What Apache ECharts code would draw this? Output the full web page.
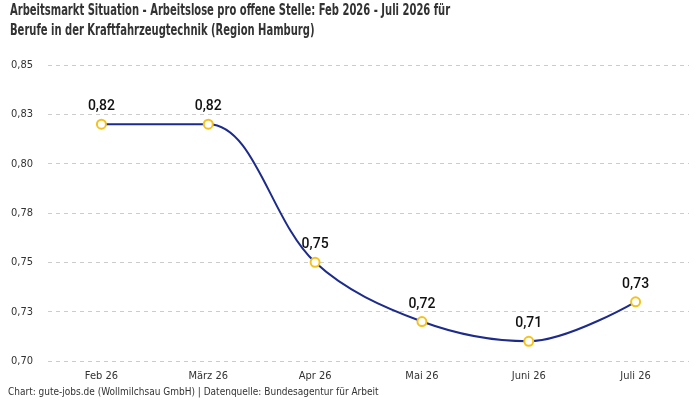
<!DOCTYPE html>
<html lang="de">
<head>
  <meta charset="UTF-8">
  <title>Arbeitsmarkt Situation</title>
  <style>
    html, body {
      margin: 0;
      padding: 0;
      background: #fff;
    }

    #chart {
      width: 700px;
      height: 400px;
    }
  </style>
</head>
<body>
  <div id="chart"></div>

  <script src="https://cdn.jsdelivr.net/npm/echarts@6/dist/echarts.min.js"></script>
  <script>
    // Monate (x-Achse)
    const months = ['Feb 26', 'März 26', 'Apr 26', 'Mai 26', 'Juni 26', 'Juli 26']
    // Arbeitslose pro offene Stelle
    const ratio = [0.82, 0.82, 0.75, 0.72, 0.71, 0.73]

    const titleText = 'Arbeitsmarkt Situation - Arbeitslose pro offene Stelle: Feb 2026 - Juli 2026 für\nBerufe in der Kraftfahrzeugtechnik (Region Hamburg)'
    const sourceText = 'Chart: gute-jobs.de (Wollmilchsau GmbH) | Datenquelle: Bundesagentur für Arbeit'

    const condensed = "'DejaVu Sans Condensed', 'Roboto', sans-serif"

    const chart = echarts.init(document.getElementById('chart'))

    // Komma als Dezimaltrenner, 0.725 -> 0,73
    function de (v) {
      return (Math.round(v * 100 + 1e-6) / 100).toFixed(2).replace('.', ',')
    }

    chart.setOption({
      animation: false,
      // Titel schmal gezogen, die Originalschrift ist sehr kondensiert
      graphic: [{
        type: 'text',
        x: 10,
        y: 1,
        scaleX: 0.74,
        style: {
          text: titleText,
          font: "bold 15px 'DejaVu Sans Condensed', sans-serif",
          fill: '#333',
          lineHeight: 20
        }
      }],
      title: {
        text: sourceText,
        left: 8,
        bottom: 3,
        padding: 0,
        textStyle: {
          fontFamily: condensed,
          fontSize: 10,
          fontWeight: 'normal',
          color: '#333'
        }
      },
      grid: {
        left: 48,
        right: 11,
        top: 65,
        bottom: 39,
        containLabel: false
      },
      xAxis: {
        type: 'category',
        data: months,
        boundaryGap: true,
        axisLine: { show: false },
        axisTick: { show: false },
        axisLabel: {
          margin: 10,
          fontFamily: condensed,
          fontSize: 11,
          color: '#333'
        }
      },
      yAxis: {
        type: 'value',
        min: 0.7,
        max: 0.85,
        interval: 0.025,
        axisLine: { show: false },
        axisTick: { show: false },
        axisLabel: {
          margin: 15,
          fontFamily: condensed,
          fontSize: 11,
          color: '#333',
          formatter: v => de(v)
        },
        splitLine: {
          lineStyle: { color: '#ccc', type: [4, 4], width: 1 }
        }
      },
      series: [{
        type: 'line',
        data: ratio,
        smooth: 0.35,
        symbol: 'circle',
        symbolSize: 9,
        lineStyle: { color: '#1c2b8c', width: 2 },
        itemStyle: { color: '#fff', borderColor: '#f5c21b', borderWidth: 2 },
        label: {
          show: true,
          position: 'top',
          distance: 5,
          fontFamily: 'Roboto, sans-serif',
          fontSize: 14,
          fontWeight: 500,
          color: '#111',
          formatter: p => de(p.value)
        }
      }]
    })
  </script>
</body>
</html>
